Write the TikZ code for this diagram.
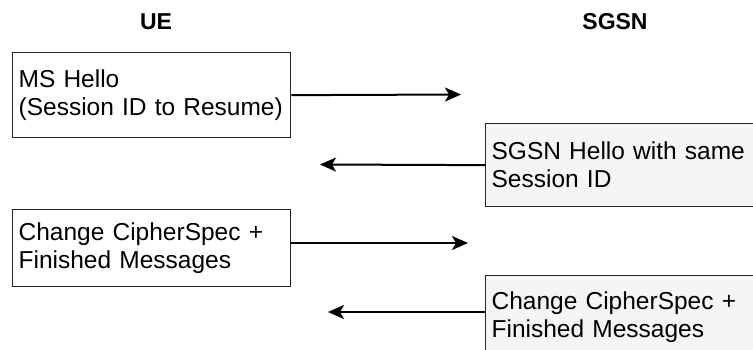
\documentclass[tikz,border=0pt]{standalone}
\usepackage{fontspec}
\setmainfont{Liberation Sans}
\usetikzlibrary{arrows.meta,calc}
\begin{document}
\begin{tikzpicture}[x=1pt,y=-1pt,
  msgbox/.style={draw=black!85,line width=1.3pt,rectangle,align=left,anchor=north west,
    inner xsep=6pt,font=\fontsize{24.5}{28}\selectfont},
  leftbox/.style={msgbox,fill=white,text width=266pt},
  rightbox/.style={msgbox,fill=black!4,text width=290pt},
  title/.style={font=\fontsize{23}{27}\selectfont\bfseries},
  msg/.style={line width=2pt,-{Stealth[length=16pt,width=14pt,inset=4pt]}}]
\useasboundingbox (0,0) rectangle (753,349);
\begin{scope}
\clip (0,0) rectangle (753,349);
\node[title] (ue) at (156,22) {UE};
\node[title] (sgsn) at (615,22) {SGSN};
\node[leftbox,minimum height=85pt] (b1) at (12,52) {MS Hello\\(Session ID to Resume)};
\node[rightbox,minimum height=83pt] (b2) at (485,123) {SGSN Hello with same\\Session ID};
\node[leftbox,minimum height=77pt] (b3) at (12,209) {Change CipherSpec +\\Finished Messages};
\node[rightbox,minimum height=83pt] (b4) at (485,275) {Change CipherSpec +\\Finished Messages};
\coordinate (e1) at (461,94.5);
\coordinate (e2) at (320,164.5);
\coordinate (e3) at (468,243);
\coordinate (e4) at (328,312);
\draw[msg] (b1.east) -- (e1);
\draw[msg] (b2.west) -- (e2);
\draw[msg] (b3.east |- e3) -- (e3);
\draw[msg] (b4.west |- e4) -- (e4);
\end{scope}
\end{tikzpicture}
\end{document}
